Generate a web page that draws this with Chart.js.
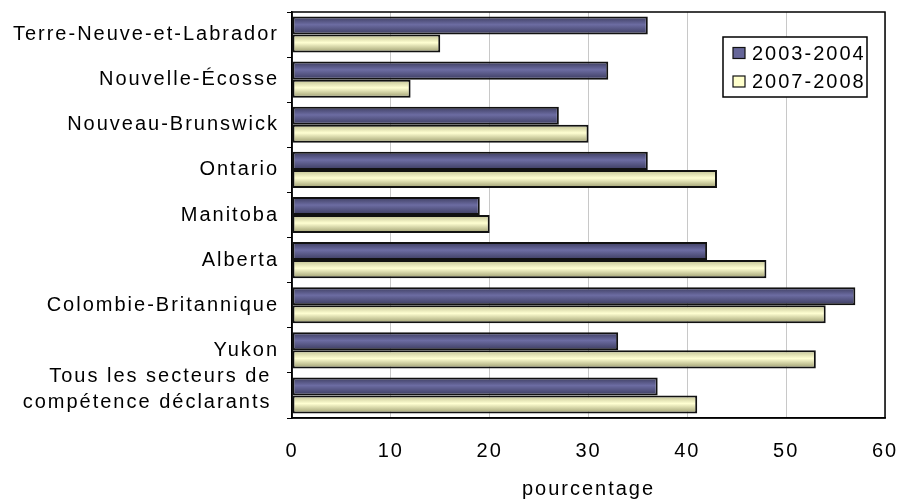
<!DOCTYPE html>
<html>
<head>
<meta charset="utf-8">
<script src="https://cdn.jsdelivr.net/npm/chart.js@4"></script>
<style>
  html, body { margin: 0; padding: 0; background: #fff; }
  #wrap { width: 901px; height: 501px; }
</style>
</head>
<body>
<div id="wrap"><canvas id="chart" width="901" height="501"></canvas></div>
<script>
// data
var categories = [
	'Terre-Neuve-et-Labrador',
	'Nouvelle-Écosse',
	'Nouveau-Brunswick',
	'Ontario',
	'Manitoba',
	'Alberta',
	'Colombie-Britannique',
	'Yukon',
	['Tous les secteurs de ', 'compétence déclarants ']
];
var seriesNames = ['2003-2004', '2007-2008'];
var values2003 = [36, 32, 27, 36, 19, 42, 57, 33, 37];
var values2007 = [15, 12, 30, 43, 20, 48, 54, 53, 41];
var xTicks = [0, 10, 20, 30, 40, 50, 60];
var axisTitle = 'pourcentage';

var FONT = 'Liberation Sans, Arial, sans-serif';
var SPACING = '2px';
var fills = ['#666699', '#ffffcc'];
var shades = [
	['#3a3a5c', '#6c6ca2', '#3a3a5c'],
	['#bdbd8e', '#ffffd2', '#9a9a6c']
];

// letter spacing like the original rendering
var spacingPlugin = {
	id: 'spacing',
	beforeUpdate: function(chart){ chart.ctx.letterSpacing = SPACING; },
	beforeDraw: function(chart){
		chart.ctx.letterSpacing = SPACING;
		// two-line label sits a little high in the original
		var items = chart.scales.y.getLabelItems(chart.chartArea);
		var last = items[items.length - 1];
		if (last && !last._moved) {
			last.options.translation[1] -= 6;
			last._moved = true;
		}
	}
};

// shaded bars, one gradient per bar
var shadePlugin = {
	id: 'shade',
	beforeDatasetsDraw: function(chart){
		var ctx = chart.ctx;
		chart.data.datasets.forEach(function(ds, i){
			chart.getDatasetMeta(i).data.forEach(function(el){
				var top = el.y - el.height / 2;
				var g = ctx.createLinearGradient(0, top, 0, top + el.height);
				g.addColorStop(0, shades[i][0]);
				g.addColorStop(0.45, shades[i][1]);
				g.addColorStop(1, shades[i][2]);
				el.options.backgroundColor = g;
			});
		});
	}
};

// frame round the plot and the boxed legend inside it
var framePlugin = {
	id: 'frame',
	afterDraw: function(chart){
		var ctx = chart.ctx, a = chart.chartArea;
		ctx.save();
		ctx.strokeStyle = '#000';
		ctx.lineWidth = 1.5;
		ctx.strokeRect(a.left, a.top, a.right - a.left, a.bottom - a.top);

		var lx = a.right - 162, ly = a.top + 25, lw = 144, lh = 60;
		ctx.fillStyle = '#fff';
		ctx.fillRect(lx, ly, lw, lh);
		ctx.lineWidth = 1.5;
		ctx.strokeRect(lx, ly, lw, lh);

		ctx.font = '20px ' + FONT;
		ctx.letterSpacing = SPACING;
		ctx.textBaseline = 'middle';
		ctx.textAlign = 'left';
		chart.data.datasets.forEach(function(ds, i){
			var cy = ly + 16 + i * 28.5;
			ctx.fillStyle = fills[i];
			ctx.fillRect(lx + 10, cy - 5.5, 12, 11);
			ctx.lineWidth = 1.2;
			ctx.strokeStyle = '#111';
			ctx.strokeRect(lx + 10, cy - 5.5, 12, 11);
			ctx.fillStyle = '#000';
			ctx.fillText(ds.label, lx + 29, cy + 1);
		});
		ctx.restore();
	}
};

new Chart(document.getElementById('chart'), {
	type: 'bar',
	data: {
		labels: categories,
		datasets: [{
			label: seriesNames[0],
			data: values2003,
			backgroundColor: function(){ return fills[0]; },
			borderColor: '#111',
			borderWidth: 2,
			borderSkipped: false
		}, {
			label: seriesNames[1],
			data: values2007,
			backgroundColor: function(){ return fills[1]; },
			borderColor: '#111',
			borderWidth: 2,
			borderSkipped: false
		}]
	},
	options: {
		indexAxis: 'y',
		responsive: false,
		animation: false,
		layout: { padding: { top: 12, right: 16, left: 0, bottom: 0 } },
		datasets: { bar: { categoryPercentage: 0.8, barPercentage: 1.0 } },
		plugins: {
			legend: { display: false },
			tooltip: { enabled: false }
		},
		scales: {
			x: {
				min: xTicks[0],
				max: xTicks[xTicks.length - 1],
				afterBuildTicks: function(scale){
					scale.ticks = xTicks.map(function(v){ return { value: v }; });
				},
				afterFit: function(scale){
					scale.height = 83;
					scale.paddingLeft = 0;
					scale.paddingRight = 0;
				},
				grid: { color: '#c8c8c8', lineWidth: 1, drawTicks: false },
				border: { display: true, color: '#000', width: 1.5 },
				ticks: { color: '#000', padding: 21, maxRotation: 0, font: { family: FONT, size: 20 } },
				title: {
					display: true,
					text: axisTitle,
					color: '#000',
					padding: { top: 0, bottom: 0 },
					font: { family: FONT, size: 20 }
				}
			},
			y: {
				afterFit: function(scale){
					scale.width = 292;
					scale.paddingTop = 0;
					scale.paddingBottom = 0;
				},
				grid: {
					drawOnChartArea: false,
					drawTicks: true,
					tickLength: 5,
					color: '#000',
					lineWidth: 1
				},
				border: { display: true, color: '#000', width: 1.5 },
				ticks: {
					color: '#000',
					padding: 8,
					autoSkip: false,
					font: { family: FONT, size: 20, lineHeight: 1.3 }
				}
			}
		}
	},
	plugins: [spacingPlugin, shadePlugin, framePlugin]
});
</script>
</body>
</html>
